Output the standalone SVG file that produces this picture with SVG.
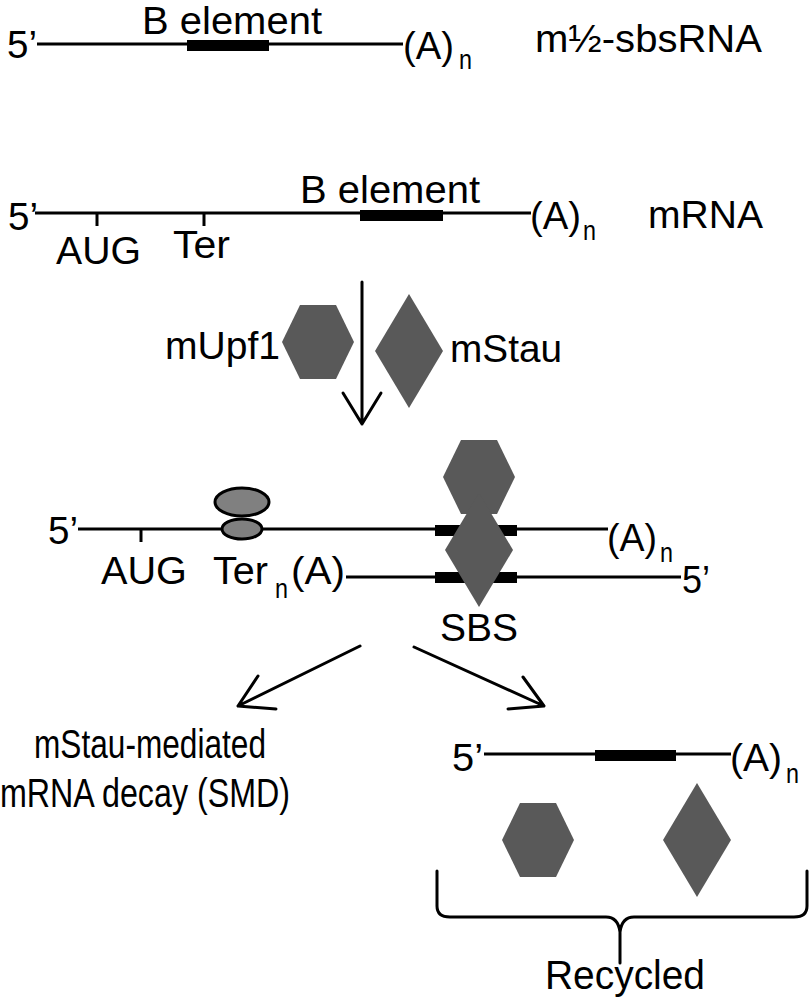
<svg xmlns="http://www.w3.org/2000/svg" width="810" height="999" viewBox="0 0 810 999">
<style>
text{font-family:"Liberation Sans",Arial,sans-serif;font-size:38px;fill:#000}
.sub{font-size:28px}
.big{font-size:40px}
.rna{stroke:#000;stroke-width:3;fill:none}
.bar{fill:#000}
.prot{fill:#595959}
.ribo{fill:#808080;stroke:#000;stroke-width:3}
.arr{stroke:#000;stroke-width:3;fill:none;stroke-linecap:round;stroke-linejoin:round}
</style>
<defs>
<polygon id="hex" points="-36,0 -18,-37 18,-37 36,0 18,37 -18,37"/>
<polygon id="dia" points="0,-57 34,0 0,57 -34,0"/>
</defs>

<g id="sbsRNA">
<line class="rna" x1="37" y1="44" x2="403" y2="44"/>
<rect class="bar" x="187" y="40" width="82" height="11"/>
<text x="7" y="58" textLength="30" lengthAdjust="spacingAndGlyphs">5’</text>
<text x="142" y="34" textLength="180" lengthAdjust="spacingAndGlyphs">B element</text>
<text x="403" y="59" textLength="51" lengthAdjust="spacingAndGlyphs">(A)</text>
<text class="sub" x="459" y="69" textLength="13" lengthAdjust="spacingAndGlyphs">n</text>
<text x="535" y="52" textLength="227" lengthAdjust="spacingAndGlyphs">m½-sbsRNA</text>
</g>

<g id="mRNA">
<line class="rna" x1="35" y1="213" x2="531" y2="213"/>
<line class="rna" x1="97" y1="213" x2="97" y2="226"/>
<line class="rna" x1="204" y1="213" x2="204" y2="226"/>
<rect class="bar" x="360" y="210" width="83" height="11"/>
<text x="8" y="230" textLength="30" lengthAdjust="spacingAndGlyphs">5’</text>
<text x="300" y="203" textLength="180" lengthAdjust="spacingAndGlyphs">B element</text>
<text x="56" y="264" textLength="85" lengthAdjust="spacingAndGlyphs">AUG</text>
<text x="173" y="258" textLength="57" lengthAdjust="spacingAndGlyphs">Ter</text>
<text x="530" y="229" textLength="51" lengthAdjust="spacingAndGlyphs">(A)</text>
<text class="sub" x="583" y="240" textLength="13" lengthAdjust="spacingAndGlyphs">n</text>
<text x="648" y="228" textLength="115" lengthAdjust="spacingAndGlyphs">mRNA</text>
</g>

<g id="mUpf1">
<use href="#hex" class="prot" x="318" y="342"/>
<text x="165" y="359" textLength="115" lengthAdjust="spacingAndGlyphs">mUpf1</text>
</g>
<g id="mStau">
<use href="#dia" class="prot" x="409" y="351"/>
<text x="450" y="362" textLength="112" lengthAdjust="spacingAndGlyphs">mStau</text>
</g>

<g id="complex">
<line class="rna" x1="78" y1="529" x2="608" y2="529"/>
<line class="rna" x1="141" y1="529" x2="141" y2="542"/>
<rect class="bar" x="435" y="525" width="82" height="11"/>
<line class="rna" x1="346" y1="577" x2="681" y2="577"/>
<rect class="bar" x="435" y="572" width="82" height="11"/>
<ellipse class="ribo" cx="242" cy="502" rx="27" ry="14"/>
<ellipse class="ribo" cx="242" cy="529" rx="20" ry="10"/>
<use href="#hex" class="prot" x="479" y="477"/>
<use href="#dia" class="prot" x="479" y="550"/>
<text x="48" y="544" textLength="30" lengthAdjust="spacingAndGlyphs">5’</text>
<text x="101" y="584" textLength="86" lengthAdjust="spacingAndGlyphs">AUG</text>
<text x="213" y="584" textLength="55" lengthAdjust="spacingAndGlyphs">Ter</text>
<text class="sub" x="275" y="598" textLength="13" lengthAdjust="spacingAndGlyphs">n</text>
<text x="291" y="584" textLength="54" lengthAdjust="spacingAndGlyphs">(A)</text>
<text x="607" y="551" textLength="50" lengthAdjust="spacingAndGlyphs">(A)</text>
<text class="sub" x="660" y="562" textLength="13" lengthAdjust="spacingAndGlyphs">n</text>
<text x="682" y="593" textLength="28" lengthAdjust="spacingAndGlyphs">5’</text>
<text x="440" y="641" textLength="78" lengthAdjust="spacingAndGlyphs">SBS</text>
</g>

<g id="SMD">
<text class="big" x="150" y="758" text-anchor="middle" textLength="232" lengthAdjust="spacingAndGlyphs">mStau-mediated</text>
<text class="big" x="145" y="807" text-anchor="middle" textLength="290" lengthAdjust="spacingAndGlyphs">mRNA decay (SMD)</text>
</g>

<g id="released">
<line class="rna" x1="484" y1="754" x2="731" y2="754"/>
<rect class="bar" x="595" y="750" width="81" height="11"/>
<text x="452" y="771" textLength="31" lengthAdjust="spacingAndGlyphs">5’</text>
<text x="730" y="771" textLength="52" lengthAdjust="spacingAndGlyphs">(A)</text>
<text class="sub" x="786" y="783" textLength="13" lengthAdjust="spacingAndGlyphs">n</text>
<use href="#hex" class="prot" x="538" y="840"/>
<use href="#dia" class="prot" x="697" y="840"/>
</g>

<g id="recycled">
<path class="arr" d="M437,871 V906 Q437,917 450,917 H606 Q618,917 620,932 M807,871 V906 Q807,917 794,917 H634 Q622,917 620,932 M620,930 V963"/>
<text class="big" x="545" y="989" textLength="160" lengthAdjust="spacingAndGlyphs">Recycled</text>
</g>

<g id="connectors">
<path class="arr" d="M362,282 V424 M343,393 L362,424 L381,393"/>
<path class="arr" d="M360,646 L238,706 M258,676 L238,706 L276,709"/>
<path class="arr" d="M414,647 L544,706 M523,677 L544,706 L508,709"/>
</g>
</svg>
